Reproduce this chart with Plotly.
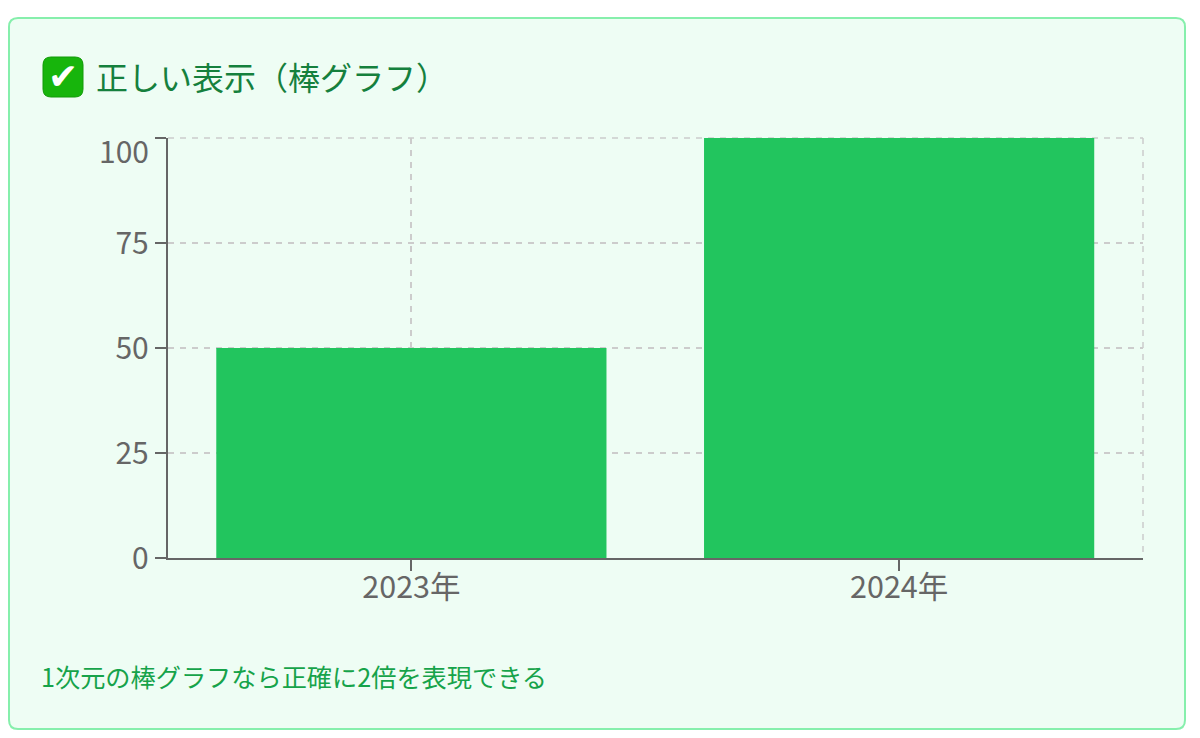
import plotly.graph_objects as go

# chart values
years = ["2023年", "2024年"]
values = [50, 100]
y_ticks = [0, 25, 50, 75, 100]
y_tick_text = ["0", "25", "50", "75", ""]  # 100 is pushed down inside the chart, see annotations

title_text = "正しい表示（棒グラフ）"
note_text = "1次元の棒グラフなら正確に2倍を表現できる"

W = 1200
H = 738
FONT = "Noto Sans CJK JP"
GRID = "#cccccc"
AXIS = "#666666"


# pixel position -> paper fraction (margins are 0 so paper = whole page)
def px(x):
    return x / W


def py(y):
    return 1 - y / H


def round_rect(x0, y0, x1, y1, r):
    return (
        f"M {px(x0 + r)} {py(y0)} L {px(x1 - r)} {py(y0)} "
        f"Q {px(x1)} {py(y0)} {px(x1)} {py(y0 + r)} L {px(x1)} {py(y1 - r)} "
        f"Q {px(x1)} {py(y1)} {px(x1 - r)} {py(y1)} L {px(x0 + r)} {py(y1)} "
        f"Q {px(x0)} {py(y1)} {px(x0)} {py(y1 - r)} L {px(x0)} {py(y0 + r)} "
        f"Q {px(x0)} {py(y0)} {px(x0 + r)} {py(y0)} Z"
    )


fig = go.Figure()

fig.add_trace(go.Bar(x=years, y=values, marker=dict(color="#22c55e", line_width=0), showlegend=False))

grid_line = dict(color=GRID, width=1.5, dash="6px,6px")

shapes = [
    # card
    dict(type="path", xref="paper", yref="paper", path=round_rect(9, 18, 1185, 729, 9),
         fillcolor="#eefdf4", line=dict(color="#86efac", width=2), layer="below"),
    # plotly skips the grid on the plot edges, so top and right go here
    dict(type="line", xref="paper", yref="paper", x0=px(1143), x1=px(1143), y0=py(138), y1=py(558),
         line=grid_line, layer="below"),
    dict(type="line", xref="paper", yref="paper", x0=px(168), x1=px(1143), y0=py(138), y1=py(138),
         line=grid_line, layer="below"),
    # emoji box
    dict(type="path", xref="paper", yref="paper", path=round_rect(43, 57, 83, 97, 8),
         fillcolor="#17b50c", line=dict(color="#129a08", width=1), layer="above"),
]

annotations = [
    dict(text=title_text, x=px(94), y=py(76), xref="paper", yref="paper", xanchor="left", yanchor="middle",
         showarrow=False, font=dict(family=FONT, size=32, color="#15803d")),
    dict(text="✔", x=px(63), y=py(77), xref="paper", yref="paper", xanchor="center", yanchor="middle",
         showarrow=False, font=dict(family="DejaVu Sans", size=36, color="white")),
    dict(text=note_text, x=px(39), y=py(676), xref="paper", yref="paper", xanchor="left", yanchor="middle",
         showarrow=False, font=dict(family=FONT, size=25.2, color="#16a34a")),
    dict(text="100", x=px(151), y=py(150), xref="paper", yref="paper", xanchor="right", yanchor="middle",
         showarrow=False, font=dict(family=FONT, size=30, color=AXIS)),
]

fig.update_layout(
    width=W,
    height=H,
    margin=dict(l=0, r=0, t=0, b=0),
    paper_bgcolor="white",
    plot_bgcolor="rgba(0,0,0,0)",
    bargap=0.2,
    shapes=shapes,
    annotations=annotations,
    font=dict(family=FONT),
)

fig.update_xaxes(
    domain=[px(167.5), px(1143)],
    automargin=False,
    showgrid=True,
    gridcolor=GRID,
    griddash="6px,6px",
    gridwidth=1.5,
    showline=True,
    linecolor=AXIS,
    linewidth=1.5,
    ticks="outside",
    ticklen=11,
    tickwidth=1.5,
    tickcolor=AXIS,
    ticklabelstandoff=-9,
    tickfont=dict(family=FONT, size=30.5, color=AXIS),
    zeroline=False,
)
fig.update_yaxes(
    domain=[py(558), py(138)],
    automargin=False,
    range=[0, 100],
    tickvals=y_ticks,
    ticktext=y_tick_text,
    showgrid=True,
    gridcolor=GRID,
    griddash="6px,6px",
    gridwidth=1.5,
    showline=True,
    linecolor=AXIS,
    linewidth=1.5,
    ticks="outside",
    ticklen=11,
    tickwidth=1.5,
    tickcolor=AXIS,
    tickfont=dict(family=FONT, size=30, color=AXIS),
    zeroline=False,
)

# page has a default 8px body margin, drop it
fig.write_html("out.html", config=dict(displayModeBar=False),
               post_script="document.body.style.margin = '0';")
